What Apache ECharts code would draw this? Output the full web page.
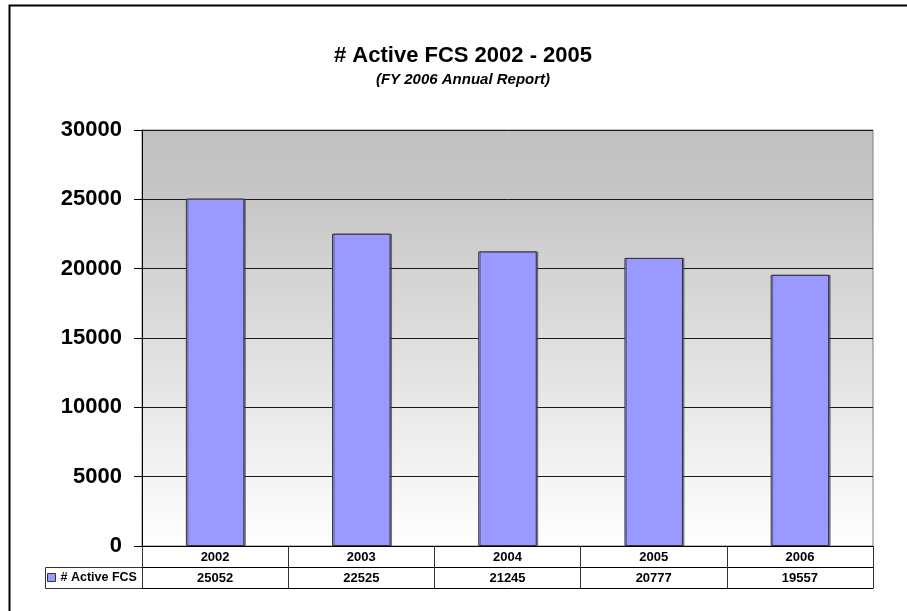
<!DOCTYPE html>
<html>
<head>
<meta charset="utf-8">
<script src="https://cdn.jsdelivr.net/npm/echarts@6/dist/echarts.min.js"></script>
<style>
html, body { margin: 0; padding: 0; background: #fff; }
#chart { width: 907px; height: 611px; }
</style>
</head>
<body>
<div id="chart"></div>
<script>
var years = ['2002', '2003', '2004', '2005', '2006'];
var activeFcs = [25052, 22525, 21245, 20777, 19557];
var seriesName = '# Active FCS';

var font = 'Liberation Sans, Arial, sans-serif';
var chart = echarts.init(document.getElementById('chart'));

chart.setOption({
    animation: false,
    backgroundColor: '#fff',
    title: {
        text: '# Active FCS 2002 - 2005',
        subtext: '(FY 2006 Annual Report)',
        left: 458,
        textAlign: 'center',
        top: 40,
        itemGap: 5,
        textStyle: {
            color: '#000',
            fontFamily: font,
            fontWeight: 'bold',
            fontSize: 22
        },
        subtextStyle: {
            color: '#000',
            fontFamily: font,
            fontWeight: 'bold',
            fontStyle: 'italic',
            fontSize: 15
        }
    },
    legend: {
        left: 47,
        top: 571,
        padding: 0,
        itemWidth: 8,
        itemHeight: 8,
        icon: 'rect',
        itemStyle: {
            borderColor: '#333',
            borderWidth: 1
        },
        textStyle: {
            color: '#000',
            fontFamily: font,
            fontWeight: 'bold',
            fontSize: 12.5
        },
        data: [seriesName]
    },
    grid: {
        show: true,
        left: 142,
        right: 34,
        top: 130,
        bottom: 65,
        borderColor: '#808080',
        borderWidth: 1,
        backgroundColor: new echarts.graphic.LinearGradient(0, 0, 0, 1, [
            { offset: 0, color: '#c0c0c0' },
            { offset: 0.12, color: '#c4c4c4' },
            { offset: 1, color: '#ffffff' }
        ])
    },
    xAxis: [
        {
            type: 'category',
            data: years,
            position: 'bottom',
            axisLine: { show: true, lineStyle: { color: '#000', width: 1 } },
            axisTick: {
                show: true,
                length: 42,
                interval: 0,
                lineStyle: { color: '#333', width: 1 }
            },
            axisLabel: {
                color: '#000',
                fontFamily: font,
                fontWeight: 'bold',
                fontSize: 13,
                margin: 5
            }
        },
        {
            type: 'category',
            data: activeFcs.map(String),
            position: 'bottom',
            offset: 21,
            axisLine: { show: true, lineStyle: { color: '#000', width: 1 } },
            axisTick: { show: false },
            axisLabel: {
                color: '#000',
                fontFamily: font,
                fontWeight: 'bold',
                fontSize: 13,
                margin: 5
            }
        },
        {
            type: 'category',
            data: years,
            position: 'bottom',
            offset: 42,
            axisLine: { show: true, lineStyle: { color: '#000', width: 1 } },
            axisTick: { show: false },
            axisLabel: { show: false }
        }
    ],
    yAxis: {
        type: 'value',
        min: 0,
        max: 30000,
        interval: 5000,
        axisLine: { show: true, lineStyle: { color: '#000', width: 1 } },
        axisTick: { show: true, length: 8, lineStyle: { color: '#000' } },
        axisLabel: {
            color: '#000',
            fontFamily: font,
            fontWeight: 'bold',
            fontSize: 22,
            margin: 20,
            formatter: function (v) { return String(v); }
        },
        splitLine: { lineStyle: { color: '#1a1a1a', width: 1 } }
    },
    series: [
        {
            name: seriesName,
            type: 'bar',
            xAxisIndex: 0,
            barWidth: '40%',
            itemStyle: {
                color: '#9999ff',
                borderColor: '#333',
                borderWidth: 1,
                shadowColor: 'rgba(60,60,90,0.6)',
                shadowOffsetX: 1.5,
                shadowBlur: 0
            },
            data: activeFcs
        }
    ],
    graphic: [
        {
            type: 'rect',
            shape: { x: 9.5, y: 5.5, width: 1000, height: 1000 },
            style: { fill: null, stroke: '#000', lineWidth: 2 },
            silent: true
        },
        {
            type: 'polyline',
            shape: { points: [[142, 567.5], [45.5, 567.5], [45.5, 588.5], [142, 588.5]] },
            style: { fill: null, stroke: '#333', lineWidth: 1 },
            silent: true
        }
    ]
});
</script>
</body>
</html>
